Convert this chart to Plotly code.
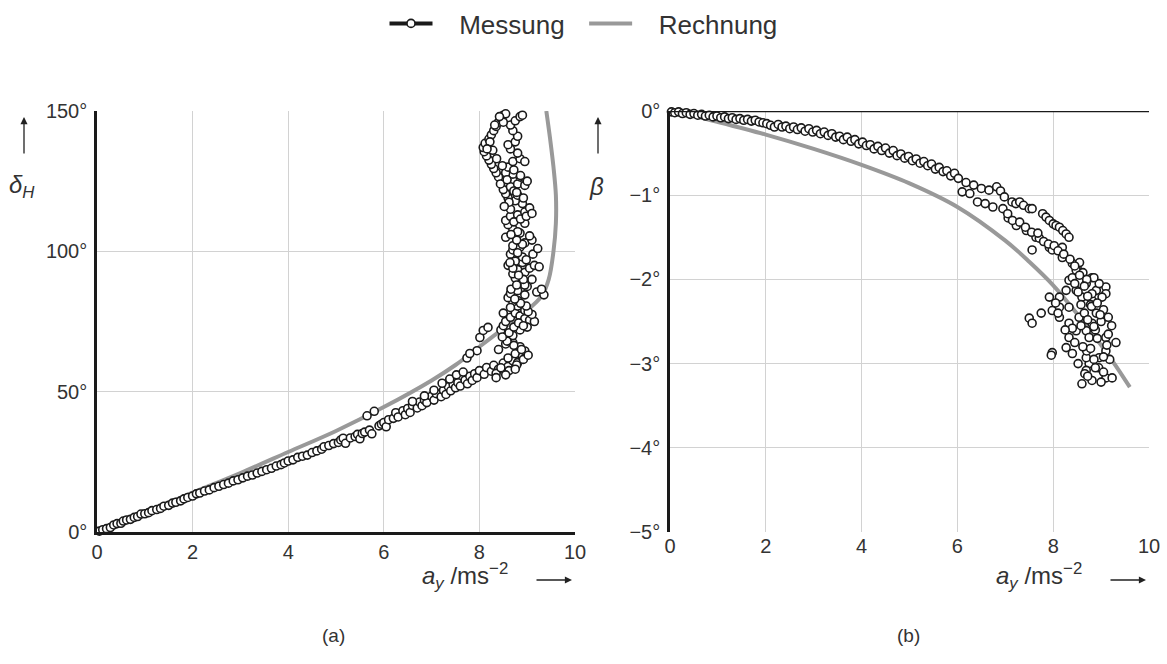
import plotly.graph_objects as go

W, H = 1167, 664

# ---------------- data: panel (a) delta_H vs a_y ----------------
mess_a_x = [
    0.05,0.12,0.20,0.28,0.35,0.42,0.50,0.55,0.62,0.70,
    0.78,0.85,0.92,1.00,1.08,1.15,1.25,1.33,1.40,1.50,
    1.58,1.65,1.75,1.82,1.90,2.00,2.08,2.15,2.25,2.35,
    2.45,2.55,2.65,2.75,2.85,2.95,3.05,3.15,3.25,3.35,
    3.45,3.55,3.65,3.75,3.85,3.92,4.00,4.10,4.20,4.30,
    4.40,4.50,4.60,4.70,4.75,4.85,4.95,5.05,5.10,5.15,
    5.20,5.30,5.40,5.45,5.50,5.55,5.60,5.65,5.70,5.75,
    5.80,5.90,5.95,6.00,6.05,6.10,6.20,6.25,6.30,6.40,
    6.45,6.50,6.55,6.60,6.70,6.75,6.80,6.85,6.90,7.00,
    7.05,7.10,7.20,7.25,7.30,7.35,7.40,7.45,7.50,7.55,
    7.60,7.70,7.75,7.80,7.85,7.90,7.95,8.00,8.10,8.15,
    8.25,8.30,8.40,8.50,8.60,8.70,8.80,7.74,7.95,8.01,
    8.08,8.18,7.80,8.60,8.75,8.90,8.95,8.85,8.70,8.60,
    8.50,8.45,8.50,8.55,8.65,8.75,8.85,8.95,9.05,9.15,
    9.10,8.95,8.80,8.70,8.60,8.65,8.80,8.95,9.20,9.35,
    9.30,9.00,8.85,8.75,8.70,8.80,8.95,9.05,9.15,9.25,
    8.90,8.75,8.65,8.70,8.85,8.95,9.10,9.05,8.85,8.70,
    8.60,8.55,8.65,8.80,8.95,9.05,8.90,8.75,8.60,8.55,
    8.50,8.65,8.80,8.95,9.00,8.85,8.70,8.55,8.40,8.35,
    8.30,8.25,8.20,8.15,8.10,8.08,8.12,8.20,8.25,8.30,
    8.35,8.40,8.45,8.50,8.55,8.60,8.70,8.85,8.95,8.80,
    8.65,8.60,8.75,8.80,8.70,8.65,8.75,8.85,8.90,8.50,
    8.40,8.55,8.70,8.85,9.00,8.50,8.65,8.80,8.95,9.10,
    8.60,8.75,8.90,8.70,8.55,8.80,8.95,8.65,8.80,8.72,
    8.35,8.45,8.62,8.78,8.92,9.02,8.88,8.72,8.58,8.48,
    8.62,8.72,8.82,8.92,9.02,8.98,8.86,8.74,8.66,8.78,
    8.92,8.82,8.70,8.64,8.80,8.98,9.12,9.22,8.90,8.78,
    8.66,8.72,8.86,8.98,9.10,8.92,8.78,8.62,8.52,8.44,
    8.58,8.72,8.86,8.48,8.36,8.28,8.22,8.16,8.32,8.42,
    6.60,6.85,7.05,7.22,7.38,7.52,7.66,8.35,8.55,8.75,
]
mess_a_y = [
    0.3,0.8,1.2,1.6,2.5,3.0,3.1,3.9,4.3,4.5,
    5.2,5.5,6.4,6.5,6.9,7.6,8.0,8.4,9.2,9.5,
    10.3,10.6,11.1,11.8,12.3,12.8,13.6,13.9,14.6,15.0,
    15.8,16.3,16.9,17.4,18.2,18.6,19.3,19.9,20.3,21.0,
    21.6,22.2,22.7,23.5,24.0,24.6,25.3,25.7,26.6,27.0,
    27.4,28.3,28.9,29.5,30.4,30.8,31.5,31.9,32.8,33.4,
    31.6,33.5,34.0,34.8,33.2,35.1,35.6,41.4,36.3,35.0,
    43.0,37.8,38.4,39.0,37.5,40.0,40.5,42.5,41.0,43.2,
    41.8,44.0,42.6,45.1,44.2,46.3,45.0,47.0,46.1,48.4,
    47.0,49.3,48.2,50.5,49.0,51.8,50.3,52.6,51.4,53.2,
    52.0,54.1,52.8,55.5,54.0,56.4,55.0,57.5,56.2,58.6,
    57.3,59.4,58.0,60.2,59.0,61.0,60.3,62.0,64.6,69.3,
    71.8,72.9,63.6,62.0,63.5,62.5,64.5,66.0,67.5,69.0,
    70.5,72.0,73.5,75.0,76.5,78.0,77.0,76.0,75.5,75.0,
    77.5,79.0,80.5,82.0,83.5,85.0,86.0,84.5,85.5,84.5,
    86.5,87.5,89.0,90.5,92.0,93.5,92.5,94.0,95.0,94.5,
    96.0,97.5,99.0,100.5,101.5,103.0,104.0,105.5,106.5,108.0,
    109.5,111.0,112.5,113.0,114.0,115.5,117.0,118.0,119.0,120.5,
    122.0,123.0,124.0,123.5,125.0,126.5,127.5,128.0,126.5,128.0,
    129.5,131.0,132.5,134.0,135.5,137.0,138.5,140.0,141.5,143.0,
    144.5,146.0,147.5,148.5,149.0,130.0,132.0,133.0,132.0,135.0,
    136.5,138.0,139.0,141.0,143.0,145.0,146.5,148.0,148.5,146.0,
    65.0,67.0,70.0,72.0,73.0,78.0,80.0,82.5,88.0,90.0,
    95.0,96.5,98.0,102.0,105.0,107.0,110.0,115.0,120.0,121.5,
    56.5,58.5,57.5,59.5,61.5,63.0,65.0,66.5,68.0,69.5,
    71.0,73.0,74.5,73.5,78.5,80.5,81.5,83.0,86.5,88.0,
    90.0,91.5,94.0,96.0,99.5,97.0,99.0,101.0,102.5,104.0,
    106.0,110.5,111.5,112.5,113.5,119.0,121.0,117.5,116.0,124.0,
    125.5,129.0,127.0,130.5,133.0,136.0,139.0,136.5,145.0,148.0,
    46.5,48.5,50.5,53.0,54.5,56.0,57.0,55.0,56.0,58.0,
]
rech_a_x = [0, 0.5, 1, 2, 3, 4, 5, 6, 7, 7.5, 8, 8.5, 9, 9.3, 9.45, 9.55, 9.6, 9.6, 9.55, 9.48, 9.4]
rech_a_y = [0, 3.5, 7, 14, 21, 28.5, 36, 44.5, 54, 59.5, 66, 72.5, 79, 84, 90, 100, 110, 120, 130, 140, 150]

# ---------------- data: panel (b) beta vs a_y ----------------
mess_b_x = [
    0.03,0.10,0.18,0.26,0.34,0.42,0.50,0.58,0.66,0.74,
    0.82,0.90,0.98,1.06,1.14,1.22,1.30,1.38,1.46,1.54,
    1.62,1.70,1.78,1.86,1.94,2.02,2.10,2.18,2.26,2.34,
    2.42,2.50,2.58,2.66,2.74,2.82,2.90,2.98,3.06,3.14,
    3.22,3.30,3.38,3.46,3.54,3.62,3.70,3.78,3.86,3.94,
    4.02,4.10,4.18,4.26,4.34,4.42,4.50,4.58,4.66,4.74,
    4.82,4.90,4.98,5.06,5.14,5.22,5.30,5.38,5.46,5.54,
    5.62,5.70,5.78,5.86,5.94,6.02,6.10,6.18,6.26,6.34,
    6.42,6.50,6.58,6.66,6.74,6.82,6.90,6.98,7.06,7.14,
    7.22,7.30,7.23,7.38,7.44,7.50,7.56,7.64,7.71,7.78,
    7.85,7.92,8.00,8.06,8.13,8.20,8.27,8.33,8.19,7.92,
    7.56,7.98,8.19,8.40,8.50,8.33,8.48,8.81,8.90,9.10,
    9.10,8.81,8.90,8.81,8.69,8.75,9.10,9.31,9.10,8.96,
    8.75,9.10,8.81,8.60,9.23,8.69,8.69,7.92,7.98,7.75,
    7.50,7.56,8.13,8.13,8.33,8.48,8.33,8.27,8.40,7.98,
    7.96,8.13,8.27,8.33,8.54,8.60,8.69,8.81,8.96,9.02,
    8.85,8.40,8.48,8.55,8.62,8.70,8.58,8.65,8.45,8.52,
    8.78,8.88,9.00,9.15,8.95,8.70,8.85,8.66,9.18,9.05,
    6.95,7.05,7.15,7.30,7.42,7.55,7.68,7.80,7.90,8.02,
    8.10,8.22,8.35,8.45,8.55,8.65,8.72,8.80,8.92,9.05,
    9.15,9.22,8.58,8.72,8.85,8.98,9.12,8.62,8.78,8.92,
    9.05,8.72,8.88,9.00,8.52,8.45,8.40,8.25,8.10,8.05,
]
mess_b_y = [
    -0.01,-0.02,-0.01,-0.03,-0.02,-0.04,-0.03,-0.05,-0.04,-0.06,
    -0.05,-0.07,-0.06,-0.08,-0.07,-0.09,-0.08,-0.10,-0.09,-0.11,
    -0.10,-0.12,-0.11,-0.13,-0.14,-0.15,-0.17,-0.19,-0.16,-0.19,
    -0.18,-0.21,-0.19,-0.22,-0.20,-0.24,-0.21,-0.25,-0.23,-0.27,
    -0.25,-0.29,-0.27,-0.31,-0.30,-0.34,-0.31,-0.36,-0.34,-0.39,
    -0.37,-0.41,-0.40,-0.45,-0.42,-0.47,-0.44,-0.50,-0.47,-0.53,
    -0.51,-0.56,-0.54,-0.59,-0.57,-0.62,-0.60,-0.65,-0.63,-0.69,
    -0.67,-0.72,-0.71,-0.77,-0.74,-0.80,-0.96,-0.85,-0.98,-0.88,
    -1.08,-0.92,-1.10,-0.94,-1.14,-0.90,-0.95,-1.02,-1.27,-1.08,
    -1.10,-1.08,-1.36,-1.12,-1.42,-1.16,-1.16,-1.50,-1.51,-1.22,
    -1.26,-1.30,-1.34,-1.36,-1.38,-1.42,-1.46,-1.50,-1.62,-1.62,
    -1.65,-1.65,-1.74,-1.81,-1.87,-2.01,-2.13,-1.98,-2.13,-2.09,
    -2.17,-2.25,-2.40,-2.52,-2.61,-2.69,-2.69,-2.75,-2.85,-2.93,
    -3.00,-3.17,-3.20,-3.24,-3.17,-2.93,-3.08,-2.21,-2.37,-2.40,
    -2.46,-2.52,-2.33,-2.45,-2.52,-2.61,-2.69,-2.81,-2.88,-2.87,
    -2.90,-2.21,-2.13,-2.33,-2.45,-2.21,-2.05,-2.17,-2.05,-2.21,
    -1.98,-1.98,-1.89,-1.80,-1.92,-2.00,-2.30,-2.40,-2.05,-2.15,
    -2.30,-2.60,-2.50,-2.65,-3.05,-2.85,-2.95,-3.12,-2.95,-3.10,
    -1.16,-1.22,-1.30,-1.32,-1.38,-1.44,-1.45,-1.55,-1.58,-1.60,
    -1.66,-1.70,-1.76,-1.84,-1.95,-2.08,-2.20,-2.32,-2.28,-2.36,
    -2.45,-2.55,-2.55,-2.48,-2.56,-2.42,-2.78,-2.80,-2.82,-2.70,
    -2.92,-3.15,-3.05,-3.22,-3.00,-2.75,-2.58,-2.60,-2.40,-2.28,
]
rech_b_x = [0, 0.5, 1, 2, 3, 4, 5, 6, 7, 7.5, 8, 8.5, 9, 9.3, 9.6]
rech_b_y = [0, -0.06, -0.13, -0.28, -0.45, -0.64, -0.86, -1.14, -1.54, -1.79, -2.07, -2.41, -2.78, -3.02, -3.28]

x_ticks = [0, 2, 4, 6, 8, 10]
x_ticktext = ["0", "2", "4", "6", "8", "10"]
ya_ticks = [0, 50, 100, 150]
ya_ticktext = ["0°", "50°", "100°", "150°"]
yb_ticks = [0, -1, -2, -3, -4, -5]
yb_ticktext = ["0°", "−1°", "−2°", "−3°", "−4°", "−5°"]

assert len(mess_a_x) == len(mess_a_y)
assert len(mess_b_x) == len(mess_b_y)

# ---------------- styles ----------------
FONT = "Liberation Sans, Arial, sans-serif"
TXT = "#333333"
GRID = "#d2d2d2"
GRAY = "#999999"
marker_style = dict(symbol="circle", size=8, color="white", line=dict(color="#1a1a1a", width=1.6))

# plot area spans pixel rows 111..532 of the 664 px tall figure
M_T, M_B = 111, 132
PH = H - M_T - M_B


def px(x):
    return x / W


def py(y):
    return (H - M_B - y) / PH


fig = go.Figure()

for xs, ys, xa, ya in [(rech_a_x, rech_a_y, "x", "y"), (rech_b_x, rech_b_y, "x2", "y2")]:
    fig.add_trace(go.Scatter(x=xs, y=ys, xaxis=xa, yaxis=ya, mode="lines",
                             line=dict(color=GRAY, width=4, shape="spline", smoothing=1.0),
                             showlegend=False, hoverinfo="skip"))
for xs, ys, xa, ya in [(mess_a_x, mess_a_y, "x", "y"), (mess_b_x, mess_b_y, "x2", "y2")]:
    fig.add_trace(go.Scatter(x=xs, y=ys, xaxis=xa, yaxis=ya, mode="markers",
                             marker=marker_style, showlegend=False, cliponaxis=False))

NB = "\u00a0"
# legend entries
fig.add_trace(go.Scatter(x=[None], y=[None], mode="lines+markers", name=NB * 3 + "Messung" + NB * 2,
                         line=dict(color="#1a1a1a", width=4), marker=marker_style))
fig.add_trace(go.Scatter(x=[None], y=[None], mode="lines", name=NB * 3 + "Rechnung",
                         line=dict(color=GRAY, width=4)))

ax_common = dict(showgrid=True, gridcolor=GRID, gridwidth=1, zeroline=False, ticks="",
                 automargin=False,
                 tickfont=dict(family=FONT, size=20, color=TXT), fixedrange=True)

fig.update_layout(
    width=W, height=H, autosize=False,
    margin=dict(l=0, r=0, t=M_T, b=M_B, pad=0, autoexpand=False),
    paper_bgcolor="white", plot_bgcolor="white",
    font=dict(family=FONT, color=TXT),
    showlegend=True,
    legend=dict(orientation="h", x=0.5, xanchor="center", y=py(0), yanchor="top",
                font=dict(family=FONT, size=26, color=TXT), itemwidth=43,
                bgcolor="rgba(0,0,0,0)"),
    xaxis=dict(domain=[px(97), px(575)], range=[0, 10], tickvals=x_ticks, ticktext=x_ticktext,
               anchor="y", showline=True, linecolor="#1a1a1a", linewidth=2.5, **ax_common),
    yaxis=dict(domain=[0, 1], range=[0, 150], tickvals=ya_ticks, ticktext=ya_ticktext,
               anchor="x", showline=True, linecolor="#1a1a1a", linewidth=2.5,
               ticklabelstandoff=3, **ax_common),
    xaxis2=dict(domain=[px(670), px(1149)], range=[0, 10], tickvals=x_ticks, ticktext=x_ticktext,
                anchor="y2", showline=False, **ax_common),
    yaxis2=dict(domain=[0, 1], range=[-5, 0], tickvals=yb_ticks, ticktext=yb_ticktext,
                anchor="x2", showline=True, linecolor="#1a1a1a", linewidth=2.5,
                ticklabelstandoff=3, **ax_common),
)

# black top line at beta = 0 in panel (b)
fig.add_shape(type="line", xref="x2 domain", yref="y2", x0=0, x1=1, y0=0, y1=0,
              line=dict(color="#1a1a1a", width=2.5))

ann = []
title_html = "<i>a</i><sub><i>y</i></sub> /ms<sup>−2</sup>"
for cx, acx in [(465, 572), (1039, 1146)]:
    ann.append(dict(x=px(cx), y=py(576), xref="paper", yref="paper", text=title_html,
                    showarrow=False, font=dict(family=FONT, size=24, color=TXT),
                    xanchor="center", yanchor="middle"))
    ann.append(dict(x=px(acx), y=py(580), xref="paper", yref="paper", text="",
                    showarrow=True, ax=-37, ay=0, arrowhead=2, arrowsize=1.1,
                    arrowwidth=1.3, arrowcolor="#222222"))
for cx, acx, lab in [(22, 24, "<i>δ</i><sub><i>H</i></sub>"), (597, 598, "<i>β</i>")]:
    ann.append(dict(x=px(cx), y=py(186), xref="paper", yref="paper", text=lab,
                    showarrow=False, font=dict(family=FONT, size=24, color=TXT),
                    xanchor="center", yanchor="middle"))
    ann.append(dict(x=px(acx), y=py(117), xref="paper", yref="paper", text="",
                    showarrow=True, ax=0, ay=38, arrowhead=2, arrowsize=1.1,
                    arrowwidth=1.3, arrowcolor="#222222"))
for cx, lab in [(333, "(a)"), (908, "(b)")]:
    ann.append(dict(x=px(cx), y=py(635), xref="paper", yref="paper", text=lab,
                    showarrow=False, font=dict(family=FONT, size=19, color=TXT),
                    xanchor="center", yanchor="middle"))
fig.update_layout(annotations=ann)

fig.write_html("out.html", config={"displayModeBar": False, "responsive": False},
               post_script="document.body.style.margin='0px';document.body.style.overflow='hidden';")
